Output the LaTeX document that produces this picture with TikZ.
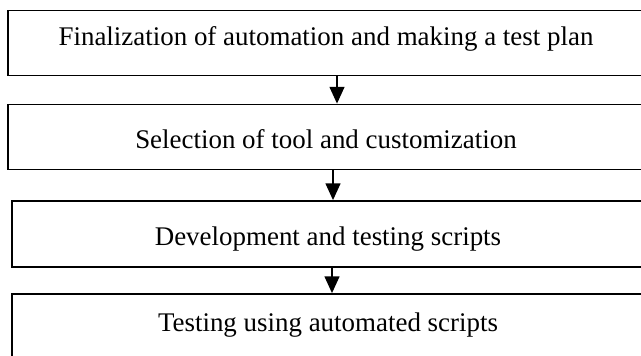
\documentclass[tikz,border=0pt]{standalone}
\usepackage{fontspec}
\setmainfont{Liberation Serif}
\usepackage{tikz}
\usetikzlibrary{arrows.meta}
\newlength{\stagewidth}
\setlength{\stagewidth}{477pt}
\newlength{\stageheight}
\setlength{\stageheight}{48.75pt}
\tikzset{stage/.style = {shape=rectangle,draw,line width=1.3pt,minimum width=\stagewidth,minimum height=\stageheight,inner sep=0pt,font=\fontsize{20.2pt}{24pt}\selectfont}}
\tikzset{edge/.style = {->,> = {Triangle[width=11pt,length=12.5pt]},line width=1.5pt}}

\begin{document}
\begin{tikzpicture}[x=0.75pt,y=-0.75pt]
                \useasboundingbox (0,0) rectangle (641,355);
                \clip (0,0) rectangle (641,355);
                \node[stage,text height=13.8pt,text depth=10.5pt] (plan) at (326,43) {Finalization of automation and making a test plan};
                \node[stage,text height=17.5pt,text depth=0pt] (tool) at (326,137) {Selection of tool and customization};
                \draw[edge] ([xshift=8.25pt]plan.south) -- ([xshift=8.25pt]tool.north);
                \node[stage,minimum width=474pt,minimum height=49.5pt,text height=21pt,text depth=4.4pt] (dev) at (328,234) {Development and testing scripts};
                \draw[edge] ([xshift=5.25pt]tool.south) -- ([xshift=3.75pt]dev.north);
                \node[stage,minimum width=474pt,text height=13.8pt,text depth=6pt] (run) at (328,326.5) {Testing using automated scripts};
                \draw[edge] ([xshift=3pt]dev.south) -- ([xshift=3pt]run.north);
            \end{tikzpicture}
\end{document}
